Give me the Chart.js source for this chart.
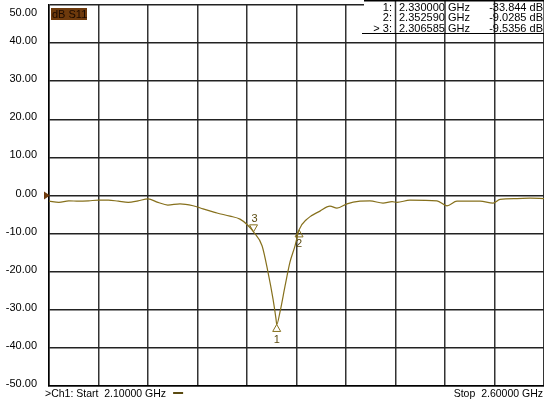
<!DOCTYPE html>
<html>
<head>
<meta charset="utf-8">
<script src="https://cdn.jsdelivr.net/npm/chart.js@4"></script>
<style>
  html, body { margin: 0; padding: 0; background: #fff; }
  canvas { display: block; }
</style>
</head>
<body>
<canvas id="chart" width="544" height="404"></canvas>
<script>
// trace (GHz / dB)
const freqGHz = [2.100, 2.110, 2.120, 2.130, 2.140, 2.150, 2.160, 2.170, 2.180, 2.190,
    2.200, 2.210, 2.220, 2.2323, 2.2455, 2.2556, 2.2657, 2.2697, 2.2828, 2.2929,
    2.300, 2.306585, 2.3152, 2.3212, 2.3263, 2.3293, 2.330, 2.3333, 2.3384, 2.3434,
    2.3485, 2.35259, 2.3606, 2.3737, 2.3838, 2.3909, 2.401, 2.4141, 2.4242, 2.4374,
    2.4465, 2.4515, 2.4646, 2.4919, 2.502, 2.5121, 2.5354, 2.5485, 2.5556, 2.5727,
    2.5859, 2.600];
const s11dB = [-1.5, -1.8, -1.4, -1.5, -1.4, -1.2, -1.2, -1.5, -1.8, -1.4,
    -0.9, -1.8, -2.5, -2.2, -2.7, -3.5, -4.3, -4.6, -5.4, -6.2,
    -7.6, -9.5356, -13.2, -20.1, -27.2, -32.4, -33.844, -30.6, -23.8, -17.5,
    -13.2, -9.0285, -6.2, -4.1, -2.8, -3.3, -2.2, -1.5, -1.4, -2.0,
    -1.6, -1.8, -1.2, -1.4, -2.7, -1.5, -1.5, -2.0, -1.0, -0.8,
    -0.7, -0.8];

const markerIds = ['1', '2', '3'];
const markerFreq = [2.330000, 2.352590, 2.306585];
const markerDb = [-33.844, -9.0285, -9.5356];
const markerFreqText = ['2.330000 GHz', '2.352590 GHz', '2.306585 GHz'];
const markerDbText = ['-33.844 dB', '-9.0285 dB', '-9.5356 dB'];
const activeMarker = 2;

const yTicks = [50, 40, 30, 20, 10, 0, -10, -20, -30, -40, -50];
const startText = '>Ch1: Start  2.10000 GHz';
const stopText = 'Stop  2.60000 GHz';
const traceName = 'dB S11';

const traceColor = '#86701c';
const refColor = '#6e3a0c';
const font = '11px "Liberation Sans", Arial, sans-serif';

const overlay = {
    id: 'overlay',
    afterDraw(chart) {
        const ctx = chart.ctx;
        const x = chart.scales.x, y = chart.scales.y;
        const area = chart.chartArea;
        ctx.save();
        ctx.font = font;
        ctx.fillStyle = '#000';

        // y tick labels
        ctx.textAlign = 'right';
        ctx.textBaseline = 'middle';
        yTicks.forEach(v => {
            let py = y.getPixelForValue(v) - 2;
            if (py < area.top + 8) py = area.top + 8;
            ctx.fillText(v.toFixed(2), area.left - 12, py);
        });

        // reference level arrow
        const ry = y.getPixelForValue(0);
        ctx.fillStyle = refColor;
        ctx.beginPath();
        ctx.moveTo(area.left - 5, ry - 4);
        ctx.lineTo(area.left + 1, ry);
        ctx.lineTo(area.left - 5, ry + 4);
        ctx.closePath();
        ctx.fill();

        // trace name box
        ctx.fillStyle = refColor;
        ctx.fillRect(area.left + 2, area.top + 3, 36, 12);
        ctx.fillStyle = '#1a0a00';
        ctx.textAlign = 'left';
        ctx.fillText(traceName, area.left + 3, area.top + 9.5);

        // marker table
        ctx.fillStyle = '#fff';
        ctx.fillRect(364, 2, chart.width - 364, 31);
        ctx.strokeStyle = '#333';
        ctx.lineWidth = 1.5;
        x.ticks.forEach(t => {
            const px = x.getPixelForValue(t.value);
            if (px > 364) {
                ctx.beginPath();
                ctx.moveTo(px, 0);
                ctx.lineTo(px, 33);
                ctx.stroke();
            }
        });
        ctx.strokeStyle = '#000';
        ctx.beginPath();
        ctx.moveTo(364, 0.75);
        ctx.lineTo(chart.width, 0.75);
        ctx.stroke();
        ctx.fillStyle = '#000';
        markerIds.forEach((id, i) => {
            const ty = 7.5 + i * 10.5;
            ctx.textAlign = 'right';
            ctx.fillText((i === activeMarker ? '> ' : '') + id + ':', 392, ty);
            ctx.textAlign = 'left';
            ctx.fillText(markerFreqText[i], 399, ty);
            ctx.textAlign = 'right';
            ctx.fillText(markerDbText[i], chart.width - 1, ty);
        });
        ctx.lineWidth = 1;
        ctx.beginPath();
        ctx.moveTo(362, 33.5);
        ctx.lineTo(chart.width, 33.5);
        ctx.stroke();

        // markers on trace
        ctx.strokeStyle = traceColor;
        ctx.fillStyle = '#5a4a10';
        ctx.lineWidth = 1;
        ctx.textAlign = 'center';
        markerIds.forEach((id, i) => {
            const px = x.getPixelForValue(markerFreq[i]);
            const py = y.getPixelForValue(markerDb[i]);
            ctx.beginPath();
            if (i === activeMarker) {
                ctx.moveTo(px, py);
                ctx.lineTo(px - 4, py - 7);
                ctx.lineTo(px + 4, py - 7);
                ctx.closePath();
                ctx.stroke();
                ctx.fillText(id, px + 1, py - 13);
            } else {
                ctx.moveTo(px, py);
                ctx.lineTo(px - 4, py + 7);
                ctx.lineTo(px + 4, py + 7);
                ctx.closePath();
                ctx.stroke();
                ctx.fillText(id, px, py + (i === 0 ? 16 : 14));
            }
        });

        // footer
        ctx.fillStyle = '#000';
        ctx.textAlign = 'left';
        ctx.font = '10.5px "Liberation Sans", Arial, sans-serif';
        ctx.fillText(startText, area.left - 4, 394);
        const w = ctx.measureText(startText).width;
        ctx.strokeStyle = '#5a4a10';
        ctx.lineWidth = 2;
        ctx.beginPath();
        ctx.moveTo(area.left - 4 + w + 7, 393);
        ctx.lineTo(area.left - 4 + w + 17, 393);
        ctx.stroke();
        ctx.textAlign = 'right';
        ctx.fillText(stopText, chart.width - 1, 394);
        ctx.restore();
    }
};

new Chart(document.getElementById('chart'), {
    type: 'line',
    data: {
        datasets: [{
            label: traceName,
            data: freqGHz.map((f, i) => ({x: f, y: s11dB[i]})),
            borderColor: traceColor,
            borderWidth: 1.2,
            pointRadius: 0,
            fill: false,
            cubicInterpolationMode: 'monotone'
        }]
    },
    options: {
        responsive: false,
        animation: false,
        events: [],
        layout: {padding: {left: 49, top: 5, right: 0, bottom: 18}},
        plugins: {legend: {display: false}, tooltip: {enabled: false}},
        scales: {
            x: {
                type: 'linear', min: 2.1, max: 2.6,
                ticks: {display: false, stepSize: 0.05},
                grid: {color: '#333', lineWidth: 1.5, drawTicks: false},
                border: {color: '#000', width: 1.5}
            },
            y: {
                min: -50, max: 50,
                ticks: {display: false, stepSize: 10},
                grid: {color: '#222', lineWidth: 1.5, drawTicks: false},
                border: {color: '#000', width: 1.5}
            }
        }
    },
    plugins: [overlay]
});
</script>
</body>
</html>
